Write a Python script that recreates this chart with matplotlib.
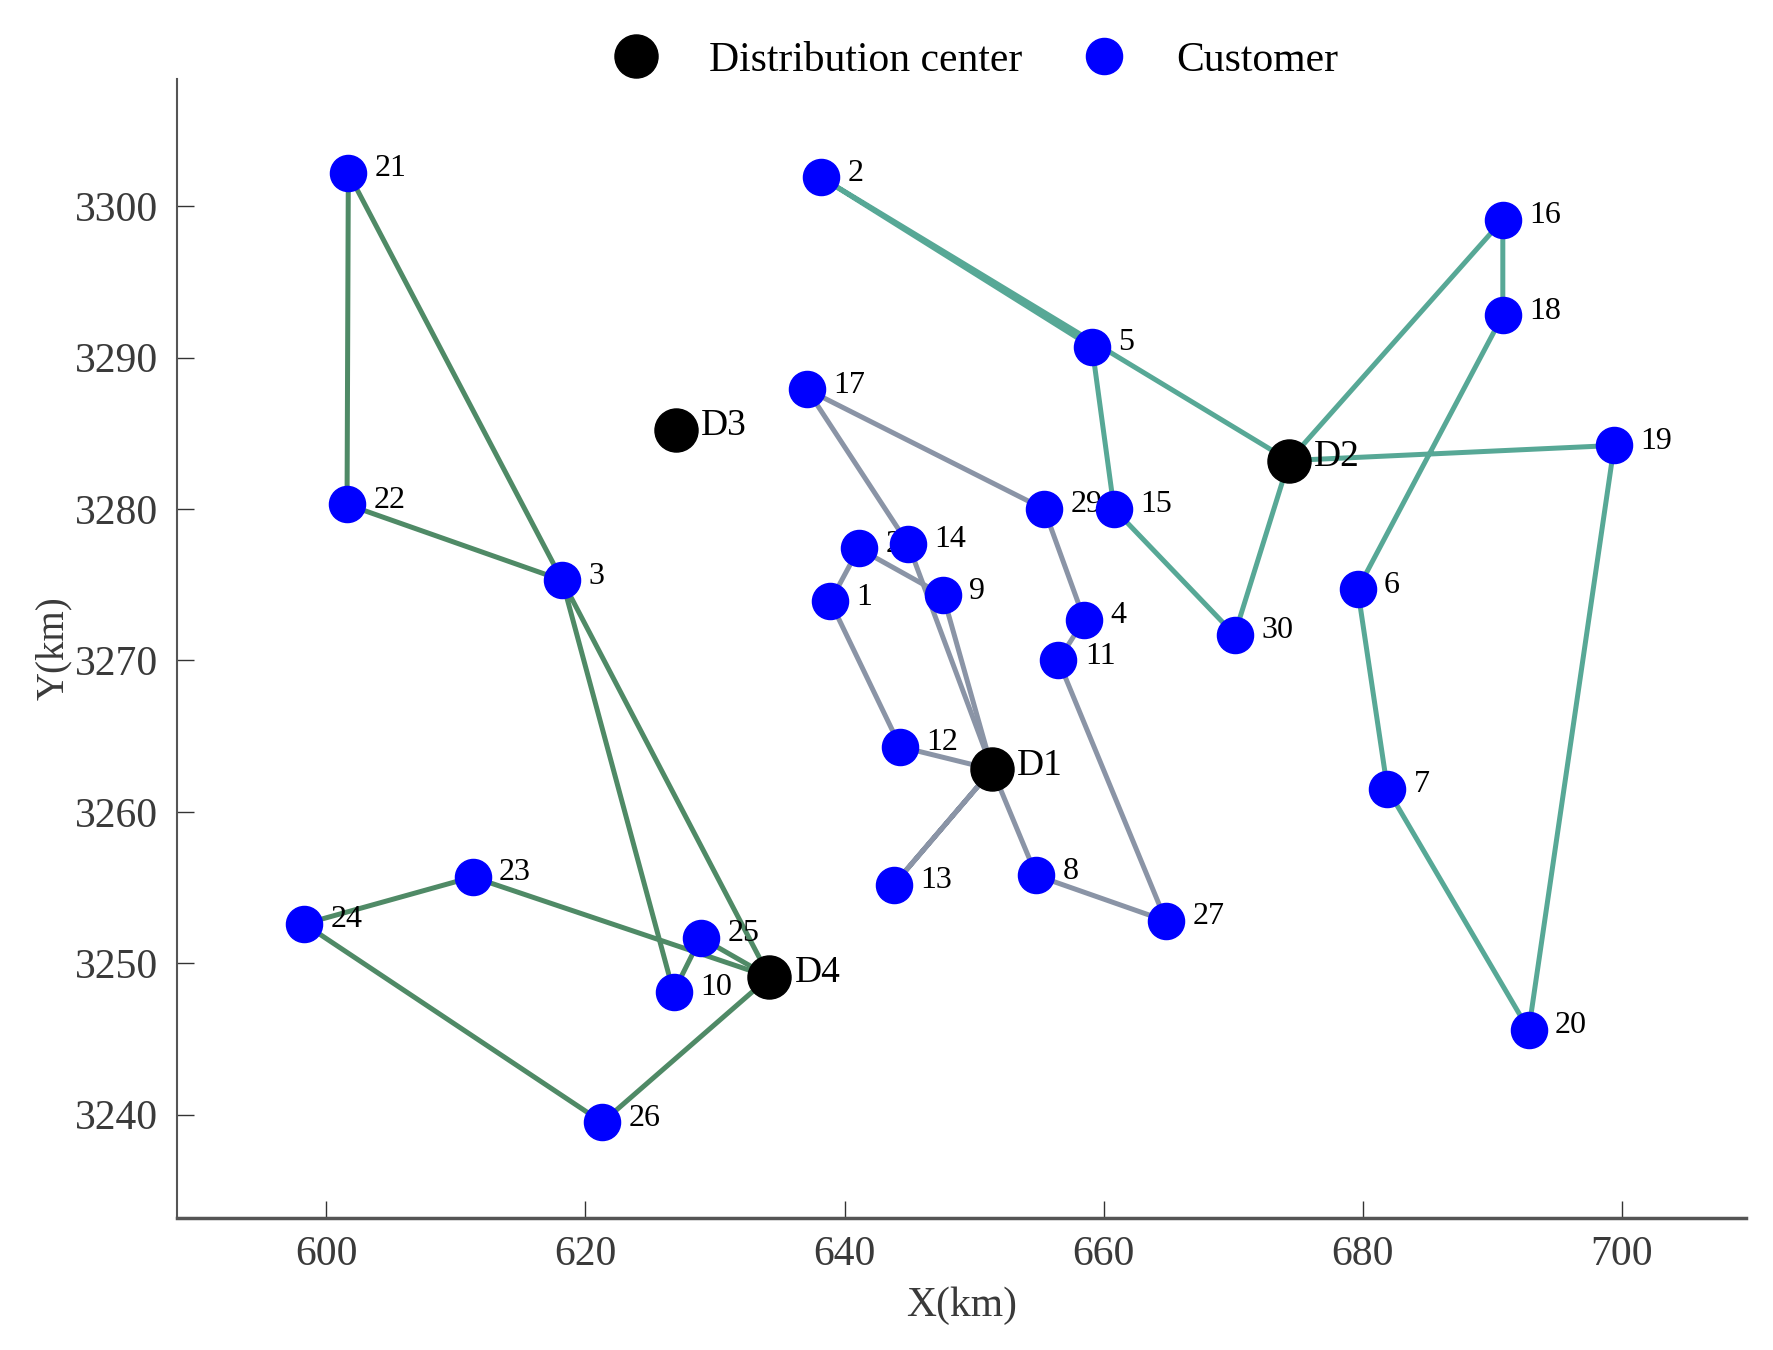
import matplotlib
matplotlib.use('Agg')
import matplotlib.pyplot as plt
from matplotlib.lines import Line2D

plt.rcParams['font.family'] = ['Liberation Serif', 'DejaVu Serif']

# Distribution centers
depot_names = ['D1', 'D2', 'D3', 'D4']
depot_x = [651.4, 674.3, 627.0, 634.2]
depot_y = [3262.8, 3283.2, 3285.2, 3249.1]

# Customers 1..30
cust_ids = list(range(1, 31))
cust_x = [638.9, 638.2, 618.2, 658.5, 659.1, 679.6, 681.9, 654.8, 647.6, 626.8,
          656.5, 644.3, 643.8, 644.9, 660.8, 690.8, 637.1, 690.8, 699.4, 692.8,
          601.7, 601.6, 611.3, 598.3, 628.9, 621.3, 664.8, 641.1, 655.4, 670.1]
cust_y = [3273.9, 3301.9, 3275.3, 3272.7, 3290.7, 3274.7, 3261.5, 3255.8, 3274.3, 3248.1,
          3270.0, 3264.3, 3255.2, 3277.7, 3280.0, 3299.1, 3287.9, 3292.8, 3284.2, 3245.6,
          3302.2, 3280.3, 3255.7, 3252.6, 3251.7, 3239.5, 3252.8, 3277.4, 3280.0, 3271.7]

# routes (sequence of node names), grouped by depot
routes_d1 = [['D1', 12, 1, 28, 9, 'D1'],
             ['D1', 14, 17, 29, 4, 11, 27, 8, 'D1'],
             ['D1', 13, 'D1']]
routes_d2 = [['D2', 2, 5, 15, 30, 'D2'],
             ['D2', 16, 18, 6, 7, 20, 19, 'D2']]
routes_d4 = [['D4', 3, 21, 22, 3, 10, 25, 'D4'],
             ['D4', 23, 24, 26, 'D4']]

col_d1 = '#8a94a6'
col_d2 = '#57a896'
col_d4 = '#4f8a66'

pos = {}
for n, x, y in zip(depot_names, depot_x, depot_y):
    pos[n] = (x, y)
for n, x, y in zip(cust_ids, cust_x, cust_y):
    pos[n] = (x, y)

fig = plt.figure(figsize=(17.73, 13.5), dpi=100)
ax = fig.add_axes([0.100, 0.098, 0.885, 0.8435])

for routes, c in [(routes_d1, col_d1), (routes_d2, col_d2), (routes_d4, col_d4)]:
    for r in routes:
        ax.plot([pos[n][0] for n in r], [pos[n][1] for n in r],
                color=c, lw=3.6, zorder=1, solid_capstyle='round')

ax.plot(depot_x, depot_y, 'o', color='black', markersize=31, zorder=3,
        label='Distribution center')
ax.plot(cust_x, cust_y, 'o', color='#0000ff', markersize=26, zorder=3,
        label='Customer')

for n, x, y in zip(depot_names, depot_x, depot_y):
    ax.annotate(n, (x, y), xytext=(18, 3), textcoords='offset points',
                fontsize=27, va='center', ha='left', zorder=2)
for n, x, y in zip(cust_ids, cust_x, cust_y):
    ax.annotate(str(n), (x, y), xytext=(19, 3), textcoords='offset points',
                fontsize=23, va='center', ha='left', zorder=2)

ax.set_xlim(588.5, 709.6)
ax.set_ylim(3233.2, 3308.4)
ax.set_xticks([600, 620, 640, 660, 680, 700])
ax.set_yticks([3240, 3250, 3260, 3270, 3280, 3290, 3300])
ax.tick_params(direction='in', length=12, width=1, labelsize=30, pad=13,
               color='#333333', labelcolor='#3a3a3a')
ax.tick_params(axis='y', pad=14)
for s in ['top', 'right']:
    ax.spines[s].set_visible(False)
ax.spines['left'].set_color('#555555')
ax.spines['left'].set_linewidth(1.5)
ax.spines['bottom'].set_color('#555555')
ax.spines['bottom'].set_linewidth(2.5)

ax.set_xlabel('X(km)', fontsize=30, labelpad=9, color='#3a3a3a')
ax.set_ylabel('Y(km)', fontsize=28, labelpad=2, color='#3a3a3a')

handles = [Line2D([], [], marker='o', ls='', color='black', markersize=31),
           Line2D([], [], marker='o', ls='', color='#0000ff', markersize=26)]
fig.legend(handles, ['Distribution center', 'Customer'], loc='center',
           bbox_to_anchor=(0.551, 0.955), ncol=2, frameon=False, fontsize=30,
           handlelength=1.0, handletextpad=1.25, columnspacing=1.45, borderpad=0)

plt.savefig('out.png', dpi=100)
